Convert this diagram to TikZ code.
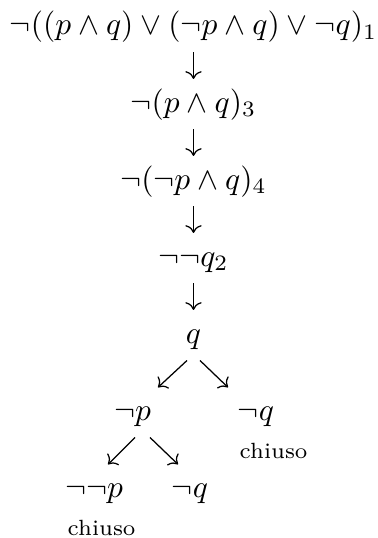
\documentclass[tikz,border=0pt]{standalone}
\usetikzlibrary{arrows.meta}
\begin{document}
\begin{tikzpicture}[x=0.318pt,y=-0.318pt,
  fml/.style={inner sep=0pt,text height=7.5pt,text depth=2.5pt,anchor=base},
  note/.style={inner sep=0pt,anchor=base west,font=\scriptsize},
  arr/.style={-{Computer Modern Rightarrow},line width=0.4pt,shorten <=2.8pt,shorten >=2.8pt},
  darr/.style={-{Computer Modern Rightarrow},line width=0.4pt}]
\useasboundingbox (0,0) rectangle (377,538);
\node[fml] (n1) at (193.5,35) {$\neg((p\wedge q)\vee(\neg p\wedge q)\vee\neg q)_1$};
\node[fml] (n2) at (193.5,112) {$\neg(p\wedge q)_3$};
\node[fml] (n3) at (193.5,189) {$\neg(\neg p\wedge q)_4$};
\node[fml] (n4) at (193.5,266) {$\neg\neg q_2$};
\node[fml] (n5) at (193.5,343) {$q$};
\node[fml] (n6) at (132.5,420) {$\neg p$};
\node[fml] (n7) at (256,420) {$\neg q$};
\node[note] (c1) at (239,458.5) {chiuso};
\node[fml] (n8) at (94,497) {$\neg\neg p$};
\node[fml] (n9) at (190,497) {$\neg q$};
\node[note] (c2) at (67,535.5) {chiuso};
\draw[arr] (n1) -- (n2);
\draw[arr] (n2) -- (n3);
\draw[arr] (n3) -- (n4);
\draw[arr] (n4) -- (n5);
\draw[darr] ([shift={(-6.5,9)}]n5.south) -- ([shift={(25.5,-8.4)}]n6.north);
\draw[darr] ([shift={(6.5,9)}]n5.south) -- ([shift={(-28,-8.4)}]n7.north);
\draw[darr] ([shift={(2.5,9)}]n6.south) -- ([shift={(14,-8.4)}]n8.north);
\draw[darr] ([shift={(17.5,9)}]n6.south) -- ([shift={(-12,-8.4)}]n9.north);
\end{tikzpicture}
\end{document}
